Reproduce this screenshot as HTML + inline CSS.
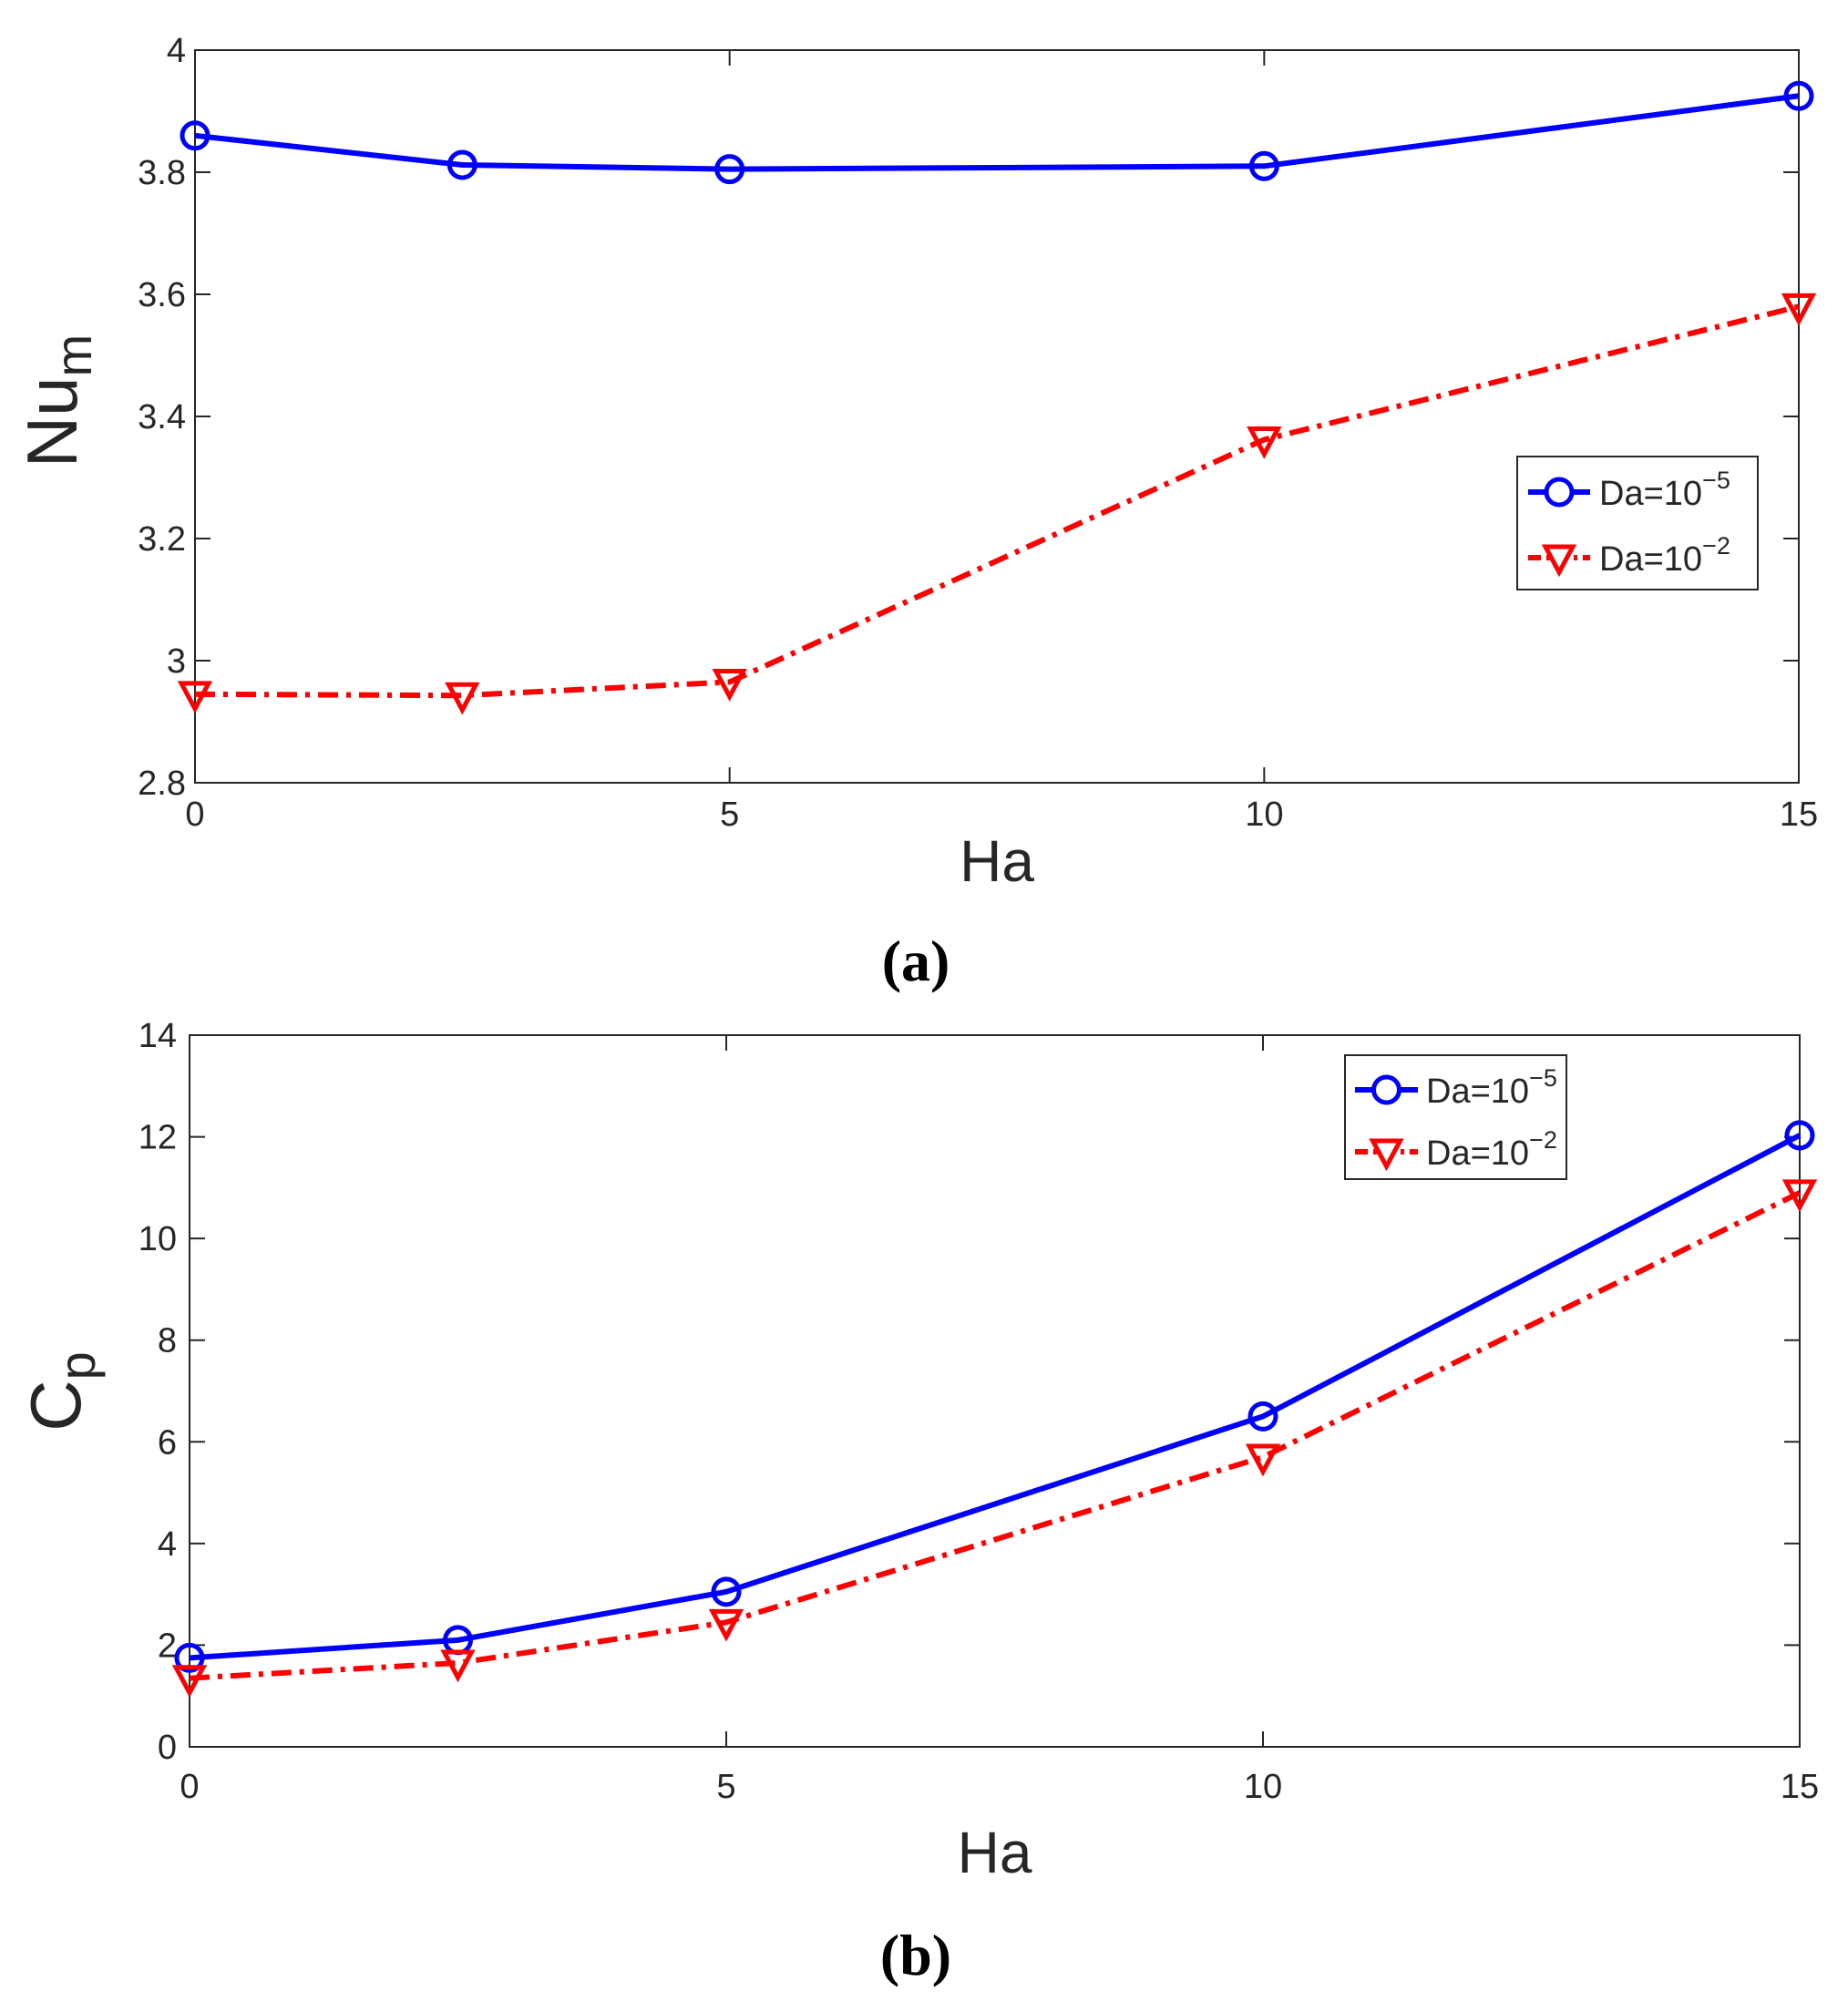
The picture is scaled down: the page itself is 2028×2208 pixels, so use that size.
<!DOCTYPE html>
<html><head><meta charset="utf-8"><style>
html,body{margin:0;padding:0;background:#fff;}
svg{display:block;}
text{font-family:"Liberation Sans",sans-serif;fill:#262626;}
</style></head><body>
<svg id="s" width="2028" height="2208" xmlns="http://www.w3.org/2000/svg"></svg>
<script>
const S=document.getElementById('s');let h='';
function panel(L,R,T,B,ymin,ymax,ystep,ydec,blue,red,ylab,sub,labX,labY,tickRight,xlabY,haY,leg){
  const X=v=>L+v/15*(R-L), Y=v=>B-(v-ymin)/(ymax-ymin)*(B-T);
  h+=`<rect x="${L}" y="${T}" width="${R-L}" height="${B-T}" fill="#fff" stroke="#262626" stroke-width="2"/>`;
  for(const v of [0,5,10,15]){const x=X(v);
    h+=`<line x1="${x}" y1="${B}" x2="${x}" y2="${B-17}" stroke="#262626" stroke-width="2"/><line x1="${x}" y1="${T}" x2="${x}" y2="${T+17}" stroke="#262626" stroke-width="2"/>`;
    h+=`<text x="${x}" y="${xlabY}" font-size="38" text-anchor="middle">${v}</text>`;}
  for(let v=ymin;v<=ymax+1e-9;v+=ystep){const y=Y(v);
    h+=`<line x1="${L}" y1="${y}" x2="${L+17}" y2="${y}" stroke="#262626" stroke-width="2"/><line x1="${R}" y1="${y}" x2="${R-17}" y2="${y}" stroke="#262626" stroke-width="2"/>`;
    let t=ydec?(Math.abs(v-Math.round(v))<1e-6?String(Math.round(v)):v.toFixed(1)):String(Math.round(v));
    h+=`<text x="${tickRight}" y="${y+13}" font-size="38" text-anchor="end">${t}</text>`;}
  const xs=[0,2.5,5,10,15];
  h+=`<polyline points="${xs.map((x,i)=>X(x)+','+Y(blue[i])).join(' ')}" fill="none" stroke="#0000ff" stroke-width="6"/>`;
  h+=`<polyline points="${xs.map((x,i)=>X(x)+','+Y(red[i])).join(' ')}" fill="none" stroke="#ff0000" stroke-width="6" stroke-dasharray="22,9,5,9"/>`;
  xs.forEach((x,i)=>{h+=`<circle cx="${X(x)}" cy="${Y(blue[i])}" r="14" fill="none" stroke="#0000ff" stroke-width="5"/>`;
    const cx=X(x),cy=Y(red[i]);h+=`<polygon points="${cx-15},${cy-12} ${cx+15},${cy-12} ${cx},${cy+16}" fill="none" stroke="#ff0000" stroke-width="5"/>`;});
  h+=`<text x="${(L+R)/2}" y="${haY}" font-size="64" text-anchor="middle" fill="#111">Ha</text>`;
  h+=`<text transform="translate(${labX},${labY}) rotate(-90)" font-size="78" text-anchor="middle" fill="#111">${ylab}<tspan font-size="56" dy="16">${sub}</tspan></text>`;
  const [lx1,ly1,lx2,ly2,sx1,sx2,tx,r1,r2]=leg;
  h+=`<rect x="${lx1}" y="${ly1}" width="${lx2-lx1}" height="${ly2-ly1}" fill="#fff" stroke="#262626" stroke-width="2"/>`;
  const mx=(sx1+sx2)/2;
  h+=`<line x1="${sx1}" y1="${r1}" x2="${sx2}" y2="${r1}" stroke="#0000ff" stroke-width="6"/><circle cx="${mx}" cy="${r1}" r="14" fill="#fff" stroke="#0000ff" stroke-width="5"/>`;
  h+=`<line x1="${sx1}" y1="${r2}" x2="${sx2}" y2="${r2}" stroke="#ff0000" stroke-width="6" stroke-dasharray="14,6,4,6"/><polygon points="${mx-15},${r2-12} ${mx+15},${r2-12} ${mx},${r2+16}" fill="#fff" stroke="#ff0000" stroke-width="5"/>`;
  h+=`<text x="${tx}" y="${r1+14}" font-size="38" fill="#000">Da=10<tspan font-size="27" dy="-18">−5</tspan></text>`;
  h+=`<text x="${tx}" y="${r2+14}" font-size="38" fill="#000">Da=10<tspan font-size="27" dy="-18">−2</tspan></text>`;
}
panel(214,1974,55,859,2.8,4.0,0.2,true,[3.86,3.812,3.805,3.81,3.925],[2.945,2.943,2.965,3.362,3.58],'Nu','m',84,440,204,906,967,
  [1665,501,1929,647,1677,1745,1755,540,612]);
panel(208,1975,1136,1917,0,14,2,false,[1.75,2.1,3.05,6.5,12.03],[1.35,1.65,2.45,5.7,10.9],'C','p',88,1527,194,1973,2055,
  [1476,1158,1719,1294,1487,1556,1565,1196,1264]);
h+=`<text x="1005" y="1076" font-size="64" text-anchor="middle" style="font-family:'Liberation Serif',serif;font-weight:bold;fill:#000">(a)</text>`;
h+=`<text x="1005" y="2167" font-size="64" text-anchor="middle" style="font-family:'Liberation Serif',serif;font-weight:bold;fill:#000">(b)</text>`;
S.innerHTML=h;
</script>
</body></html>
